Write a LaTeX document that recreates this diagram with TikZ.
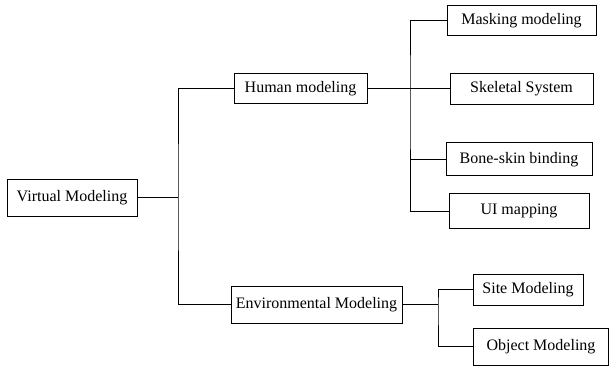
\documentclass[tikz,border=0pt]{standalone}
\usepackage{fontspec}
\setmainfont{Liberation Serif}
\begin{document}
\begin{tikzpicture}[x=1pt,y=-1pt,
  box/.style={draw, line width=1pt, fill=white, inner sep=0pt,
    font=\fontsize{16}{18}\selectfont},
  link/.style={line width=1pt}]
\useasboundingbox (0,0) rectangle (610,366);

% root
\node[box, minimum width=130, minimum height=37] (vm) at (72,198) {Virtual Modeling};

% second level
\node[box, minimum width=133, minimum height=30] (hm) at (300.5,89) {Human modeling};
\node[box, minimum width=171, minimum height=37] (env) at (316.5,304.5) {Environmental Modeling};

% leaves of human modeling
\node[box, minimum width=149, minimum height=30] (mask) at (521.5,21) {Masking modeling};
\node[box, minimum width=143, minimum height=31] (skel) at (521.5,89) {Skeletal System};
\node[box, minimum width=146, minimum height=33] (bone) at (519,159.5) {Bone-skin binding};
\node[box, minimum width=140, minimum height=34] (ui) at (519,211) {UI mapping};

% leaves of environmental modeling
\node[box, minimum width=110, minimum height=31] (site) at (528,289.5) {Site Modeling};
\node[box, minimum width=135, minimum height=37] (obj) at (541,346.5) {Object Modeling};

% branch points
\coordinate (t) at (178,198);
\coordinate (h) at (410,89);
\coordinate (e) at (438,304.5);

% connectors
\draw[link] (vm.east) -- (t);
\draw[link] (hm.west) -| (t) |- (env.west);

\draw[link] (hm.east) -- (skel.west);
\draw[link] (mask.west) -| (h) |- (ui.west);
\draw[link] (h |- bone.west) -- (bone.west);

\draw[link] (env.east) -- (e);
\draw[link] (site.west) -| (e) |- (obj.west);
\end{tikzpicture}
\end{document}
